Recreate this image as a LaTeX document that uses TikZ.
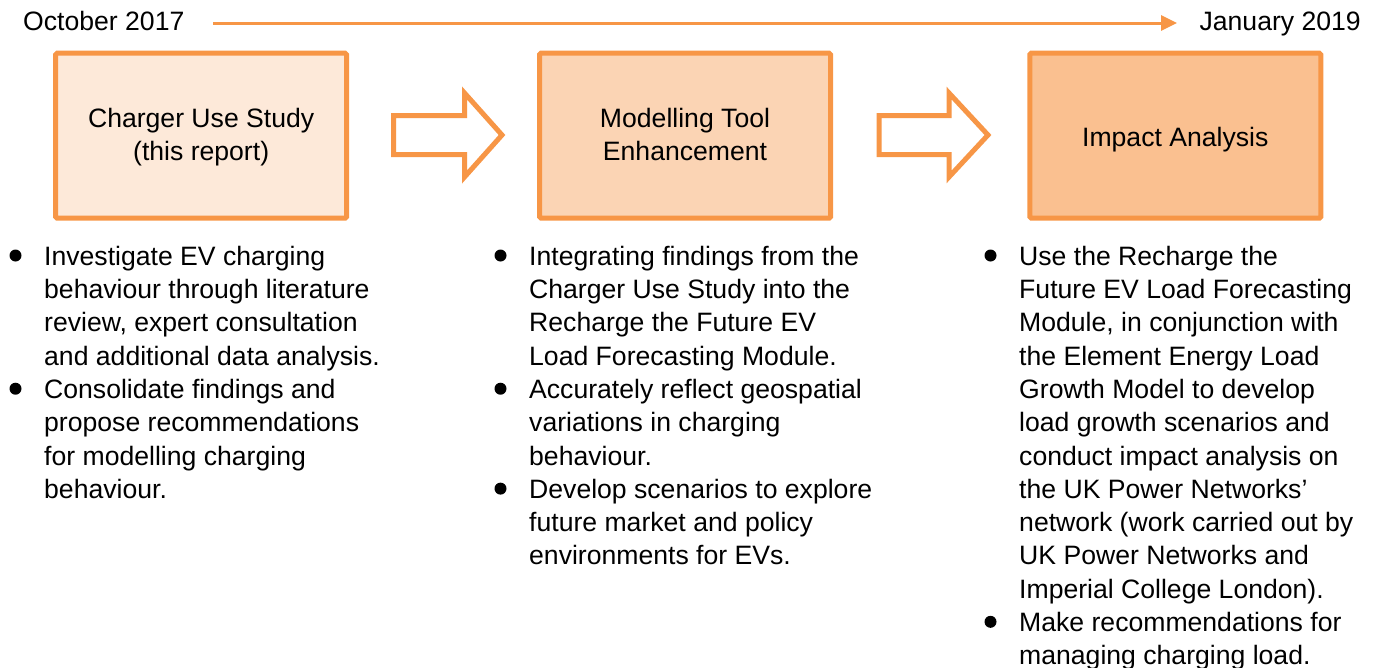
\documentclass[tikz,border=0pt]{standalone}
\usepackage{fontspec}
\setmainfont{Liberation Sans}
\usetikzlibrary{arrows.meta}
\definecolor{accent}{HTML}{F79646}
\definecolor{fillA}{HTML}{FDE9D9}
\definecolor{fillB}{HTML}{FBD4B4}
\definecolor{fillC}{HTML}{FAC090}
\newcommand\bodyfnt{\fontsize{26.6}{33.3}\selectfont}
\tikzset{
  stagebox/.style={draw=accent, line width=5pt, rounded corners=1.5pt, minimum width=291pt, minimum height=165pt, inner sep=0pt},
  stagelabel/.style={anchor=north, align=center, inner sep=0pt, font=\bodyfnt, text=black},
  blockarrow/.style={draw=accent, fill=white, line width=5pt, line join=miter},
  bulletdot/.style={circle, fill=black, inner sep=0pt, minimum size=12pt},
  bullettext/.style={anchor=north west, align=left, inner sep=0pt, font=\bodyfnt, text=black},
  datelabel/.style={inner sep=0pt, font=\bodyfnt, text=black},
  timeline/.style={draw=accent, line width=3pt, -{Triangle[length=16pt,width=15pt]}}
}
\begin{document}
\begin{tikzpicture}[x=1pt,y=-1pt]
\useasboundingbox (0,0) rectangle (1376,667);

% timeline
\node[datelabel, anchor=base west] (d1) at (23,30.8) {October 2017};
\node[datelabel, anchor=base east] (d2) at (1361,30.8) {January 2019};
\coordinate (t1) at (213,23);
\coordinate (t2) at (1177,23);
\draw[timeline] (t1) -- (t2);

% stage boxes
\node[stagebox, fill=fillA] (s1) at (201.15,135.7) {};
\node[stagebox, fill=fillB] (s2) at (685,135.7) {};
\node[stagebox, fill=fillC] (s3) at (1175.25,135.7) {};
\node[stagelabel] (l1) at (201.15,104) {\strut Charger Use Study\\(this report)};
\node[stagelabel] (l2) at (685,104) {\strut Modelling Tool\\Enhancement};
\node[stagelabel] (l3) at (1175.25,122.7) {\strut Impact Analysis};

% block arrows
\draw[blockarrow] (393.5,115.5) -- (464.5,115.5) -- (464.5,93) -- (502,135) -- (464.5,177) -- (464.5,154.5) -- (393.5,154.5) -- cycle;
\draw[blockarrow] (879,115.5) -- (949,115.5) -- (949,93) -- (988,135) -- (949,177) -- (949,154.5) -- (879,154.5) -- cycle;

% column 1
\node[bulletdot] (b11) at (15.5,255.5) {};
\node[bullettext] (c11) at (44,241.7) {\strut Investigate EV charging\\behaviour through literature\\review, expert consultation\\and additional data analysis.};
\node[bulletdot] (b12) at (15.5,388.7) {};
\node[bullettext] (c12) at (44,374.9) {\strut Consolidate findings and\\propose recommendations\\for modelling charging\\behaviour.};

% column 2
\node[bulletdot] (b21) at (500.5,255.5) {};
\node[bullettext] (c21) at (529,241.7) {\strut Integrating findings from the\\Charger Use Study into the\\Recharge the Future EV\\Load Forecasting Module.};
\node[bulletdot] (b22) at (500.5,388.7) {};
\node[bullettext] (c22) at (529,374.9) {\strut Accurately reflect geospatial\\variations in charging\\behaviour.};
\node[bulletdot] (b23) at (500.5,488.6) {};
\node[bullettext] (c23) at (529,474.8) {\strut Develop scenarios to explore\\future market and policy\\environments for EVs.};

% column 3
\node[bulletdot] (b31) at (990.5,255.5) {};
\node[bullettext] (c31) at (1019,241.7) {\strut Use the Recharge the\\Future EV Load Forecasting\\Module, in conjunction with\\the Element Energy Load\\Growth Model to develop\\load growth scenarios and\\conduct impact analysis on\\the UK Power Networks’\\network (work carried out by\\UK Power Networks and\\Imperial College London).};
\node[bulletdot] (b32) at (990.5,621.8) {};
\node[bullettext] (c32) at (1019,608.0) {\strut Make recommendations for\\managing charging load.};
\end{tikzpicture}
\end{document}
